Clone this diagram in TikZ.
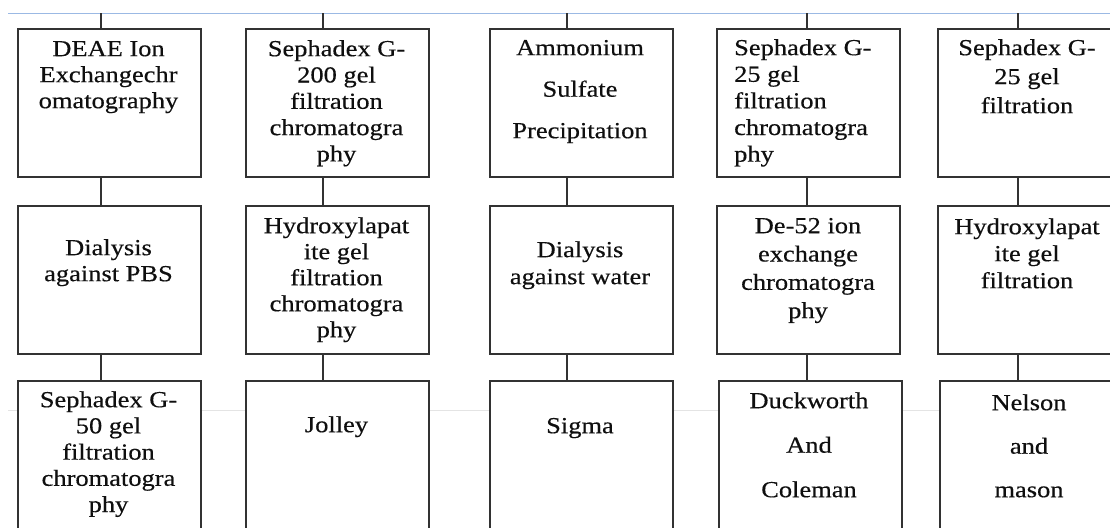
\documentclass[tikz,border=0pt]{standalone}
\usepackage{fontspec}
\newfontfamily\tnr[FakeStretch=1.15,FakeBold=0.4]{Liberation Serif}
\definecolor{topline}{RGB}{155,185,228}
\definecolor{faint}{RGB}{228,228,228}
\definecolor{edge}{RGB}{50,50,50}
\definecolor{ink}{RGB}{15,15,15}
\begin{document}
\begin{tikzpicture}[x=1pt,y=-1pt,
  stepbox/.style={draw=edge, line width=1.6pt, fill=white, anchor=north west, inner sep=0pt, minimum width=183pt},
  toprow/.style={stepbox, minimum height=148pt},
  lastrow/.style={stepbox, minimum height=170pt},
  link/.style={draw=edge, line width=1.6pt},
  txt/.style={font={\tnr\fontsize{23pt}{#1pt}\selectfont}, text=ink, align=center, inner sep=0pt, anchor=north},
  ltxt/.style={txt=#1, align=left, anchor=north west}]
\useasboundingbox (0,0) rectangle (1110,527);
\clip (0,0) rectangle (1110,527);
% guide lines
\coordinate (L0) at (8,13.5);
\coordinate (L1) at (1110,13.5);
\draw[topline, line width=1.8pt] (L0) -- (L1);
\coordinate (G0) at (8,410);
\coordinate (G1) at (1110,410);
\draw[faint, line width=1pt] (G0) -- (G1);
% branch points
\coordinate (t1) at (101,13.5);
\coordinate (t2) at (323,13.5);
\coordinate (t3) at (567,13.5);
\coordinate (t4) at (807,13.5);
\coordinate (t5) at (1018,13.5);
% boxes
\node[toprow] (b11) at (17,28) {};
\node[toprow] (b21) at (17,205) {};
\node[lastrow] (b31) at (17,380) {};
\node[toprow] (b12) at (245,28) {};
\node[toprow] (b22) at (245,205) {};
\node[lastrow] (b32) at (245,380) {};
\node[toprow] (b13) at (489,28) {};
\node[toprow] (b23) at (489,205) {};
\node[lastrow] (b33) at (489,380) {};
\node[toprow] (b14) at (716,28) {};
\node[toprow] (b24) at (716,205) {};
\node[lastrow] (b34) at (718,380) {};
\node[toprow] (b15) at (937,28) {};
\node[toprow] (b25) at (937,205) {};
\node[lastrow] (b35) at (939,380) {};
% connectors
\foreach \c in {1,...,5}{
  \draw[link] (t\c) -- (t\c |- b1\c.north);
  \draw[link] (b1\c.south -| t\c) -- (b2\c.north -| t\c);
  \draw[link] (b2\c.south -| t\c) -- (b3\c.north -| t\c);
}
% texts column 1
\node[txt=26] (x11) at (108.5,38) {\rule{0pt}{18pt}DEAE Ion\\Exchangechr\\omatography};
\node[txt=26] (x21) at (108.5,237) {\rule{0pt}{18pt}Dialysis\\against PBS};
\node[txt=26.2] (x31) at (108.5,389) {\rule{0pt}{18pt}Sephadex G-\\50 gel\\filtration\\chromatogra\\phy};
% column 2
\node[txt=26.3] (x12) at (336.5,38) {\rule{0pt}{18pt}Sephadex G-\\200 gel\\filtration\\chromatogra\\phy};
\node[txt=26] (x22) at (336.5,215) {\rule{0pt}{18pt}Hydroxylapat\\ite gel\\filtration\\chromatogra\\phy};
\node[txt=26] (x32) at (336.5,414) {\rule{0pt}{18pt}Jolley};
% column 3
\node[txt=41.5] (x13) at (580,37) {\rule{0pt}{18pt}Ammonium\\Sulfate\\Precipitation};
\node[txt=27] (x23) at (580,239) {\rule{0pt}{18pt}Dialysis\\against water};
\node[txt=26] (x33) at (580,415) {\rule{0pt}{18pt}Sigma};
% column 4
\node[ltxt=26.6] (x14) at (734,37) {\rule{0pt}{18pt}Sephadex G-\\25 gel\\filtration\\chromatogra\\phy};
\node[txt=28.3] (x24) at (808,215) {\rule{0pt}{18pt}De-52 ion\\exchange\\chromatogra\\phy};
\node[txt=44.5] (x34) at (809,390) {\rule{0pt}{18pt}Duckworth\\And\\Coleman};
% column 5
\node[txt=29] (x15) at (1027,37) {\rule{0pt}{18pt}Sephadex G-\\25 gel\\filtration};
\node[txt=27] (x25) at (1027,216) {\rule{0pt}{18pt}Hydroxylapat\\ite gel\\filtration};
\node[txt=43.5] (x35) at (1029,392) {\rule{0pt}{18pt}Nelson\\and\\mason};
\end{tikzpicture}
\end{document}
